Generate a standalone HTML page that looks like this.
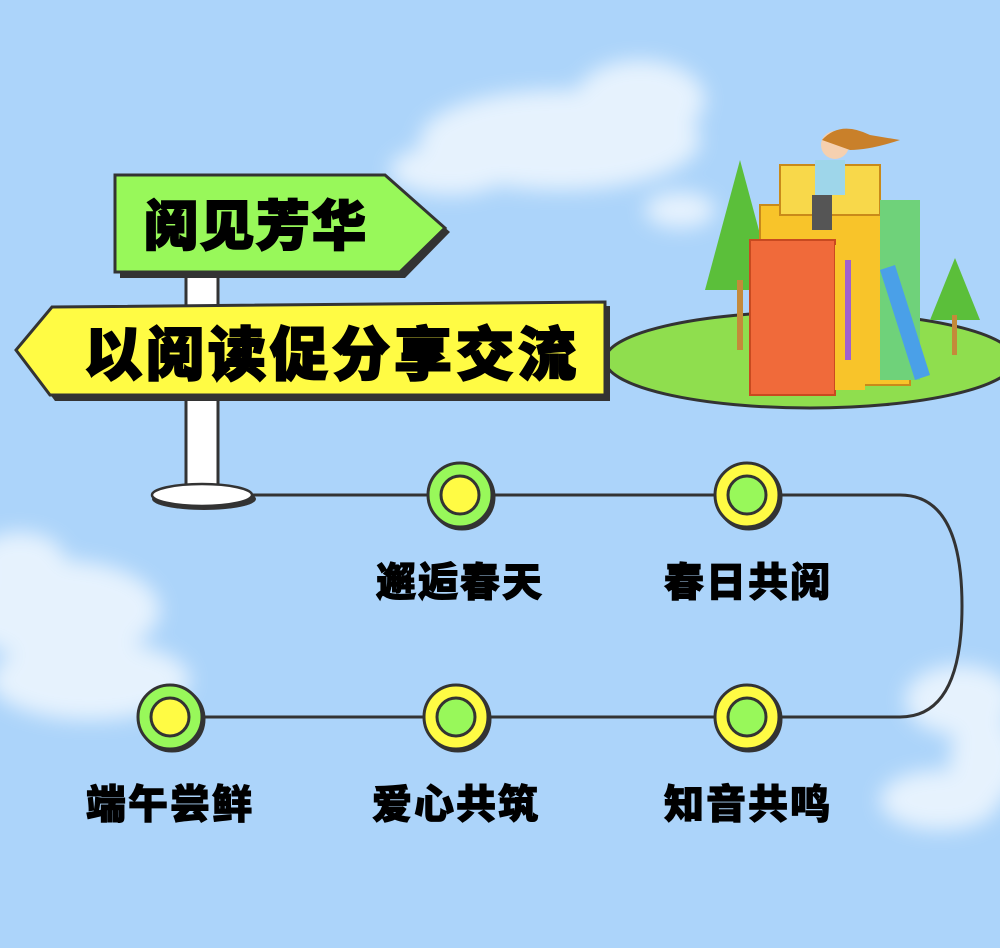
<!DOCTYPE html>
<html><head><meta charset="utf-8"><style>
body{margin:0;width:1000px;height:943px;overflow:hidden;background:#acd4fa;font-family:"Liberation Sans","Noto Sans CJK SC",sans-serif}
</style></head><body>
<svg width="1000" height="943" viewBox="0 0 1000 943" xmlns="http://www.w3.org/2000/svg">
<defs><filter id="b" x="-20%" y="-20%" width="140%" height="140%"><feGaussianBlur stdDeviation="10"/></filter></defs>
<g fill="#fff" opacity="0.7" filter="url(#b)">
<ellipse cx="560" cy="140" rx="140" ry="50"/><ellipse cx="640" cy="100" rx="65" ry="40"/><ellipse cx="450" cy="170" rx="60" ry="25"/><ellipse cx="680" cy="210" rx="35" ry="18"/>
<ellipse cx="60" cy="610" rx="100" ry="50"/><ellipse cx="90" cy="680" rx="100" ry="40"/><ellipse cx="20" cy="560" rx="45" ry="28"/>
<ellipse cx="960" cy="700" rx="55" ry="35"/><ellipse cx="940" cy="800" rx="60" ry="30"/><ellipse cx="985" cy="760" rx="35" ry="45"/>
</g>
<ellipse cx="810" cy="360" rx="205" ry="48" fill="#8fde4e" stroke="#333" stroke-width="3"/>
<polygon points="740,160 705,290 775,290" fill="#5bbf3a"/><rect x="737" y="280" width="6" height="70" fill="#c48a3a"/>
<polygon points="955,258 930,320 980,320" fill="#5bbf3a"/><rect x="952" y="315" width="5" height="40" fill="#c48a3a"/>
<rect x="760" y="205" width="150" height="180" fill="#f8c42a" stroke="#c98a1a" stroke-width="2"/>
<rect x="780" y="165" width="100" height="50" fill="#f8d84a" stroke="#c98a1a" stroke-width="2"/>
<rect x="880" y="200" width="40" height="180" fill="#6fd27a"/>
<rect x="750" y="240" width="85" height="155" fill="#f06a3a" stroke="#c84a20" stroke-width="2"/>
<rect x="835" y="245" width="30" height="145" fill="#f8c42a"/>
<rect x="845" y="260" width="6" height="100" fill="#a060d0"/>
<polygon points="880,270 895,265 930,375 915,380" fill="#4aa0e8"/>
<circle cx="835" cy="145" r="14" fill="#f5d0b0"/><path d="M822 140 Q840 120 870 135 L900 140 Q870 150 850 150Z" fill="#c9802a"/>
<rect x="815" y="160" width="30" height="35" fill="#9ed6ea"/><rect x="812" y="195" width="20" height="35" fill="#555"/>
<path d="M250 495 H900 Q962 495 962 606 Q962 717 900 717 H170" fill="none" stroke="#333" stroke-width="3"/>
<rect x="186" y="265" width="32" height="225" fill="#fff" stroke="#333" stroke-width="3"/>
<ellipse cx="204" cy="499" rx="52" ry="11" fill="#333"/>
<ellipse cx="202" cy="495" rx="50" ry="11" fill="#fff" stroke="#333" stroke-width="2.5"/>
<polygon points="120,180 390,180 450,232 405,278 120,278" fill="#333"/>
<polygon points="115,175 385,175 445,228 400,272 115,272" fill="#98f85a" stroke="#333" stroke-width="3"/>
<text x="256" y="245" text-anchor="middle" font-size="54" font-weight="900" fill="#000" stroke="#000" stroke-width="2" font-family="Noto Sans CJK SC,sans-serif" letter-spacing="2">阅见芳华</text>
<polygon points="55,312 610,306 610,401 55,401 22,356" fill="#333"/>
<polygon points="52,307 605,302 605,395 50,395 16,350" fill="#fffb44" stroke="#333" stroke-width="3"/>
<text x="332" y="375" text-anchor="middle" font-size="58" font-weight="900" fill="#000" stroke="#000" stroke-width="2" font-family="Noto Sans CJK SC,sans-serif" letter-spacing="4">以阅读促分享交流</text>
<g stroke="#333" stroke-width="3">
<circle cx="462" cy="497" r="32" fill="#333"/><circle cx="460" cy="495" r="32" fill="#98f85a"/><circle cx="460" cy="495" r="19" fill="#fffb44"/>
<circle cx="749" cy="497" r="32" fill="#333"/><circle cx="747" cy="495" r="32" fill="#fffb44"/><circle cx="747" cy="495" r="19" fill="#98f85a"/>
<circle cx="172" cy="719" r="32" fill="#333"/><circle cx="170" cy="717" r="32" fill="#98f85a"/><circle cx="170" cy="717" r="19" fill="#fffb44"/>
<circle cx="458" cy="719" r="32" fill="#333"/><circle cx="456" cy="717" r="32" fill="#fffb44"/><circle cx="456" cy="717" r="19" fill="#98f85a"/>
<circle cx="749" cy="719" r="32" fill="#333"/><circle cx="747" cy="717" r="32" fill="#fffb44"/><circle cx="747" cy="717" r="19" fill="#98f85a"/>
</g>
<g font-size="40" font-weight="900" fill="#000" stroke="#000" stroke-width="1" text-anchor="middle" font-family="Noto Sans CJK SC,sans-serif" letter-spacing="2">
<text x="460" y="596">邂逅春天</text>
<text x="748" y="596">春日共阅</text>
<text x="170" y="818">端午尝鲜</text>
<text x="456" y="818">爱心共筑</text>
<text x="748" y="818">知音共鸣</text>
</g>
</svg>
</body></html>
